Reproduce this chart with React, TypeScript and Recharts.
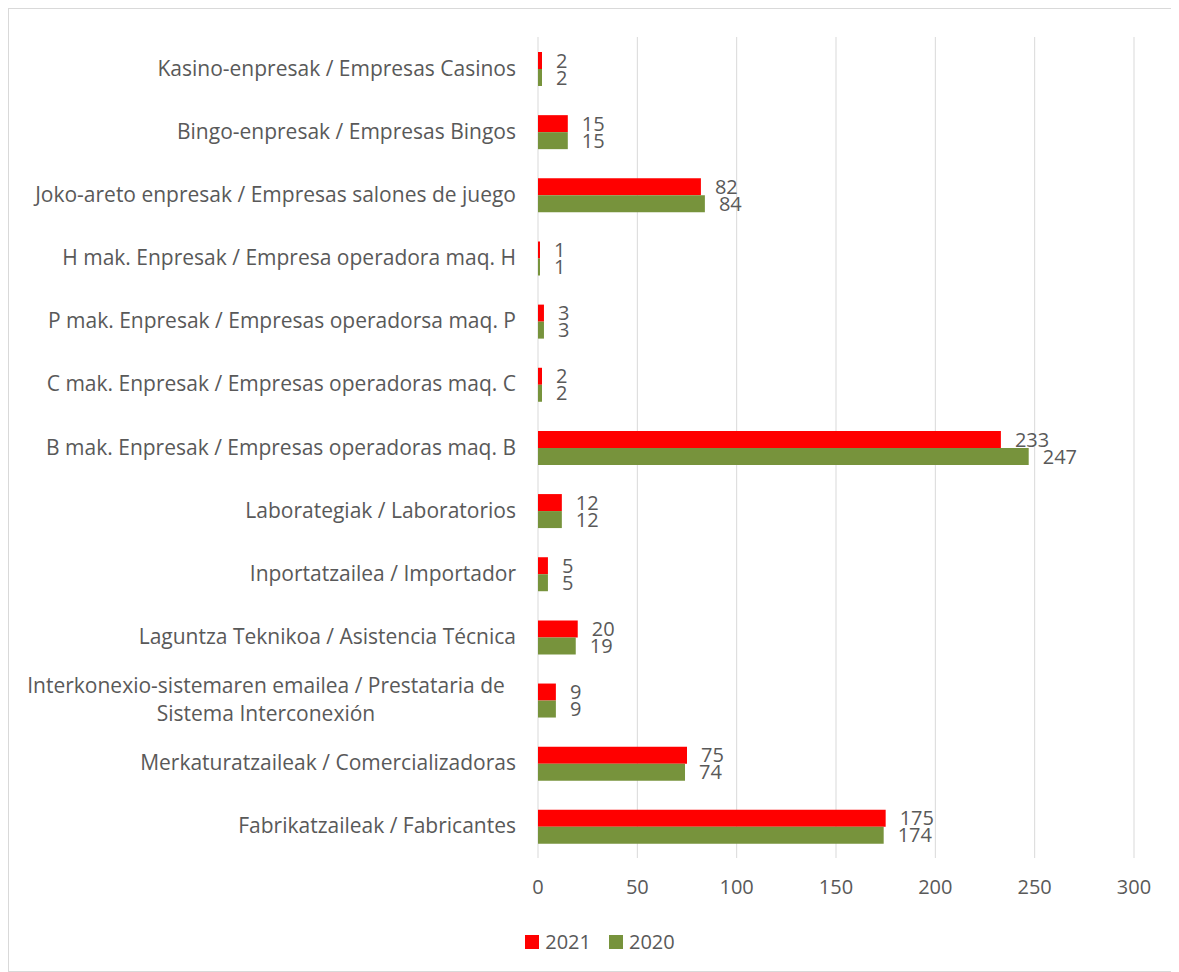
import { BarChart, Bar, XAxis, YAxis, CartesianGrid, Legend, LabelList } from 'recharts';

const categories = [
  'Kasino-enpresak / Empresas Casinos',
  'Bingo-enpresak / Empresas Bingos',
  'Joko-areto enpresak / Empresas salones de juego',
  'H mak. Enpresak / Empresa operadora maq. H',
  'P mak. Enpresak / Empresas operadorsa maq. P',
  'C mak. Enpresak / Empresas operadoras maq. C',
  'B mak. Enpresak / Empresas operadoras maq. B',
  'Laborategiak / Laboratorios',
  'Inportatzailea / Importador',
  'Laguntza Teknikoa / Asistencia Técnica',
  'Interkonexio-sistemaren emailea /  Prestataria de\nSistema Interconexión',
  'Merkaturatzaileak / Comercializadoras',
  'Fabrikatzaileak / Fabricantes',
];

const values2021 = [2, 15, 82, 1, 3, 2, 233, 12, 5, 20, 9, 75, 175];
const values2020 = [2, 15, 84, 1, 3, 2, 247, 12, 5, 19, 9, 74, 174];

const xTicks = [0, 50, 100, 150, 200, 250, 300];

const series = [
  { key: 'y2021', name: '2021', color: '#ff0000' },
  { key: 'y2020', name: '2020', color: '#77933c' },
];

const data = categories.map((name, i) => ({ name, y2021: values2021[i], y2020: values2020[i] }));

const FONT = '"Open Sans", sans-serif';
const TEXT = '#595959';

// category labels, right aligned; the two-line one is centred like Excel does
function CategoryTick(props: any) {
  const { x, y, payload } = props;
  const lines: string[] = String(payload.value).split('\n');
  if (lines.length === 1) {
    return (
      <text x={x} y={y} dy={7} textAnchor="end" fill={TEXT} fontSize={21} fontFamily={FONT}>
        {lines[0]}
      </text>
    );
  }
  const cx = x - 250;
  return (
    <text x={cx} y={y} textAnchor="middle" fill={TEXT} fontSize={21} fontFamily={FONT}>
      {lines.map((l, i) => (
        <tspan key={i} x={cx} dy={i === 0 ? -7 : 28}>
          {l}
        </tspan>
      ))}
    </text>
  );
}

function LegendBox() {
  return (
    <div style={{ display: 'flex', justifyContent: 'center', gap: 18, fontFamily: FONT, fontSize: 20, color: TEXT, marginLeft: 57 }}>
      {series.map((s) => (
        <div key={s.key} style={{ display: 'flex', alignItems: 'center', gap: 6 }}>
          <span style={{ width: 14, height: 14, background: s.color, display: 'inline-block' }} />
          <span>{s.name}</span>
        </div>
      ))}
    </div>
  );
}

export default function App() {
  return (
    <div style={{ position: 'relative', width: 1171, height: 964 }}>
      {/* title of the slide above, cut off by the frame */}
      <div style={{ position: 'absolute', left: 213, top: -8, height: 8, width: 400, overflow: 'hidden' }}>
        <div style={{ position: 'absolute', top: -21, left: 0, fontFamily: FONT, fontSize: 26, color: '#a6a6a6', whiteSpace: 'nowrap' }}>
          presta de juego
        </div>
      </div>
      <div style={{ border: '1px solid #d9d9d9', width: 1169, height: 962, background: '#fff' }}>
        <BarChart
          width={1169}
          height={962}
          data={data}
          layout="vertical"
          barSize={17}
          barGap={0}
          margin={{ top: 28, right: 44, left: 0, bottom: 16 }}
        >
          <CartesianGrid stroke="#d9d9d9" horizontal={false} />
          <XAxis
            type="number"
            domain={[0, 300]}
            ticks={xTicks}
            axisLine={false}
            tickLine={false}
            tickMargin={16}
            height={70}
            tick={{ fill: TEXT, fontSize: 20, fontFamily: FONT }}
          />
          <YAxis
            type="category"
            dataKey="name"
            width={529}
            axisLine={false}
            tickLine={false}
            tickSize={0}
            tickMargin={22}
            interval={0}
            tick={<CategoryTick />}
          />
          <Legend verticalAlign="bottom" content={<LegendBox />} />
          {series.map((s) => (
            <Bar key={s.key} dataKey={s.key} name={s.name} fill={s.color} isAnimationActive={false}>
              <LabelList dataKey={s.key} position="right" offset={14} fill={TEXT} fontSize={20} fontFamily={FONT} />
            </Bar>
          ))}
        </BarChart>
      </div>
    </div>
  );
}
